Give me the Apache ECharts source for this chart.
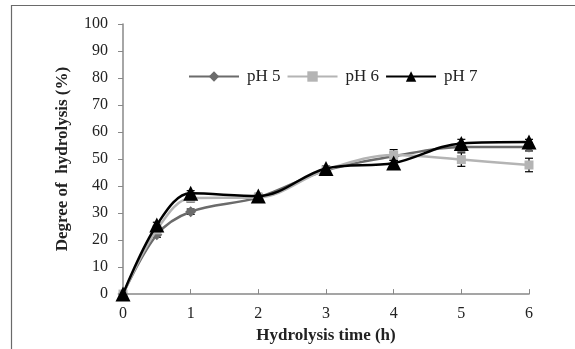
<!DOCTYPE html>
<html><head><meta charset="utf-8">
<script src="https://cdn.jsdelivr.net/npm/echarts@6/dist/echarts.min.js"></script>
<style>html,body{margin:0;padding:0;background:#fff}#c{width:575px;height:349px}</style>
</head><body><div id="c"></div>
<script>
const times = [0, 0.5, 1, 2, 3, 4, 5, 6];
const ph5 = [0, 22, 30.5, 35.8, 45.8, 51, 54.5, 54.5];
const ph6 = [0, 23.8, 35.5, 35.8, 46, 51.5, 49.8, 47.8];
const ph7 = [0, 25.6, 37.3, 36.3, 46.5, 48.5, 55.8, 56.3];
const err5 = [0, 1, 1, 1, 1, 1.5, 1.5, 1.5];
const err6 = [0, 1, 1.5, 1, 1, 2, 2.5, 2.5];
const err7 = [0, 1, 1, 1, 1, 1, 1.5, 1];
const seriesNames = ['pH 5', 'pH 6', 'pH 7'];
const yTicks = [0,10,20,30,40,50,60,70,80,90,100];
const xTicks = [0,1,2,3,4,5,6];

const font = '"Liberation Serif", "Times New Roman", serif';
const chart = echarts.init(document.getElementById('c'), null, {renderer:'canvas'});

function pts(vals){ return times.map((t,i)=>[t, vals[i]]); }
function errData(vals, errs){ return times.map((t,i)=>[t, vals[i]-errs[i], vals[i]+errs[i]]); }
function errSeries(vals, errs, color){
  return {
    type:'custom', silent:true, z:1,
    data: errData(vals, errs),
    renderItem: function(params, api){
      const x = api.value(0);
      const lo = api.coord([x, api.value(1)]);
      const hi = api.coord([x, api.value(2)]);
      const hw = 4;
      const style = {stroke: color, lineWidth: 1.2};
      return {type:'group', children:[
        {type:'line', shape:{x1:lo[0],y1:lo[1],x2:hi[0],y2:hi[1]}, style},
        {type:'line', shape:{x1:lo[0]-hw,y1:lo[1],x2:lo[0]+hw,y2:lo[1]}, style},
        {type:'line', shape:{x1:hi[0]-hw,y1:hi[1],x2:hi[0]+hw,y2:hi[1]}, style}
      ]};
    }
  };
}

const colors = ['#6b6b6b', '#b4b4b4', '#000000'];
const symbols = ['diamond', 'rect', 'triangle'];
const sizes = [11, 9, 15];
const vals = [ph5, ph6, ph7];
const errs = [err5, err6, err7];

const series = [];
for (let k=0;k<3;k++){
  series.push(errSeries(vals[k], errs[k], '#000'));
}
for (let k=0;k<3;k++){
  series.push({
    name: seriesNames[k], type:'line', data: pts(vals[k]), smooth: 0.35,
    symbol: symbols[k], symbolSize: sizes[k], clip:false, z: 3+k,
    lineStyle:{color: colors[k], width: 2.5},
    itemStyle:{color: colors[k]}
  });
}

chart.setOption({
  animation:false,
  backgroundColor:'#fff',
  graphic:[{type:'rect', shape:{x:11.5,y:5.5,width:700,height:500}, style:{fill:'none', stroke:'#6a6a6a', lineWidth:1.2}, z:100}],
  legend:{
    data: seriesNames, left:183, top:63, itemWidth:50, itemHeight:13, itemGap:6,
    textStyle:{fontFamily:font, fontSize:17, color:'#222', padding:[0,0,0,3]}
  },
  grid:{left:123, right:46, top:24, bottom:53},
  xAxis:{
    type:'value', min:0, max:6, interval:1,
    name:'Hydrolysis time (h)', nameLocation:'middle', nameGap:31,
    nameTextStyle:{fontFamily:font, fontSize:17, fontWeight:'bold', color:'#222'},
    axisLine:{lineStyle:{color:'#888', width:1.5}},
    axisTick:{inside:true, length:5, lineStyle:{color:'#888'}},
    axisLabel:{fontFamily:font, fontSize:16, color:'#222', margin:12},
    splitLine:{show:false}
  },
  yAxis:{
    type:'value', min:0, max:100, interval:10,
    name:'Degree of  hydrolysis (%)', nameLocation:'middle', nameGap:52,
    nameTextStyle:{fontFamily:font, fontSize:17, fontWeight:'bold', color:'#222'},
    axisLine:{show:true, lineStyle:{color:'#888', width:1.5}},
    axisTick:{show:true, inside:false, length:5, lineStyle:{color:'#888'}},
    axisLabel:{fontFamily:font, fontSize:16, color:'#222', margin:15},
    splitLine:{show:false}
  },
  series
});
</script></body></html>
